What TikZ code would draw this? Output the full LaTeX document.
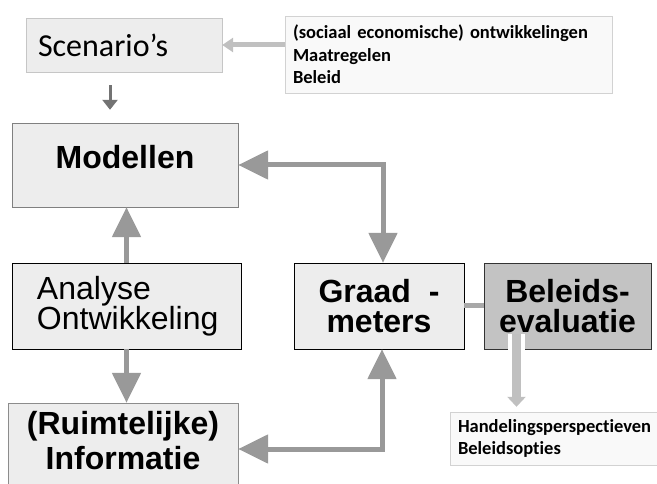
\documentclass[tikz,border=0pt]{standalone}
\usepackage{fontspec}
\setmainfont{Liberation Sans}
\newfontfamily\calibri[Ligatures=NoCommon]{Carlito}
\usetikzlibrary{arrows.meta}

\definecolor{boxfill}{HTML}{EDEDED}
\definecolor{darkfill}{HTML}{C3C3C3}
\definecolor{notefill}{HTML}{F9F9F9}
\definecolor{arrgray}{HTML}{999999}
\definecolor{paleline}{HTML}{C0C0C0}

\begin{document}
\begin{tikzpicture}[
  x=1pt,
  y=-1pt,
  box/.style={draw, align=center, inner sep=0pt, fill=boxfill},
  main/.style={box, font=\bfseries\fontsize{32}{30}\selectfont},
  note/.style={draw=gray!35, fill=notefill, align=left, inner xsep=8pt, inner ysep=0pt, font=\calibri\bfseries\fontsize{18.5}{22.5}\selectfont},
  arr/.style={-{Triangle[length=30pt,width=28pt]}, line width=5pt, draw=arrgray},
  bidi/.style={arr, {Triangle[length=30pt,width=28pt]}-{Triangle[length=30pt,width=28pt]}}
]

\path[use as bounding box] (0,0) rectangle (657,484);
\clip (0,0) rectangle (657,484);
\fill[white] (0,0) rectangle (657,484);

\node[box, draw=gray!45, minimum width=196pt, minimum height=54pt, text width=172pt, align=left, font=\calibri\fontsize{32}{36}\selectfont] (scen) at (124,45) {Scenario’s};
\node[note, minimum width=327pt, minimum height=77pt, text width=311pt] (invoer) at (448.5,54.5) {(sociaal economische) ontwikkelingen\\Maatregelen\\Beleid};

\node[main, draw=gray, minimum width=226pt, minimum height=84pt, text depth=16pt] (mod) at (125,165) {Modellen};
\node[box, draw=black, minimum width=229pt, minimum height=86pt, text width=179pt, align=left, font=\fontsize{32}{30}\selectfont] (ana) at (126.5,306) {Analyse\\Ontwikkeling};
\node[main, draw=gray!90, minimum width=230pt, minimum height=92pt, text depth=17pt, font=\bfseries\fontsize{32}{35}\selectfont] (info) at (123,449) {(Ruimtelijke)\\Informatie};

\node[main, draw=black, minimum width=170pt, minimum height=86pt, font=\bfseries\fontsize{32}{30}\selectfont] (graad) at (379,306) {Graad\ \ -\\meters};
\node[main, draw=black!80, fill=darkfill, minimum width=167pt, minimum height=86pt, font=\bfseries\fontsize{32}{30}\selectfont] (evaluatie) at (567.5,306) {Beleids-\\evaluatie};
\node[note, minimum width=215pt, minimum height=53pt, text width=199pt, font=\calibri\bfseries\fontsize{18.5}{22}\selectfont] (opties) at (557.5,438.5) {Handelingsperspectieven\\Beleidsopties};

\draw[line width=5pt, draw=paleline, -{Triangle[length=11pt,width=14pt]}] (invoer.west |- scen.east) -- (scen.east);
\draw[line width=3pt, draw=black!55, -{Triangle[length=10pt,width=15pt]}, shorten <=13pt, shorten >=13pt] ([xshift=-14pt]scen.south) -- ([xshift=-14pt]scen.south |- mod.north);

\draw[arr] (ana.north) -- (ana.north |- mod.south);
\draw[arr] (ana.south) -- (ana.south |- info.north);
\draw[bidi] (mod.east) -| ([xshift=4pt]graad.north);
\draw[bidi] (info.east) -| ([xshift=3pt]graad.south);

\draw[line width=5pt, draw=arrgray!85] (graad.east) -- (evaluatie.west);

% witte rand onder de pijl naar de beleidsopties
\draw[line width=17pt, white] ([xshift=-51pt,yshift=15pt]evaluatie.south) -- ([xshift=-51pt,yshift=-2pt]evaluatie.south);
\draw[line width=9pt, draw=paleline, -{Triangle[length=10pt,width=18pt]}, shorten >=5pt] ([xshift=-51pt,yshift=15pt]evaluatie.south) -- ([xshift=-51pt]evaluatie.south |- opties.north);

\end{tikzpicture}
\end{document}
